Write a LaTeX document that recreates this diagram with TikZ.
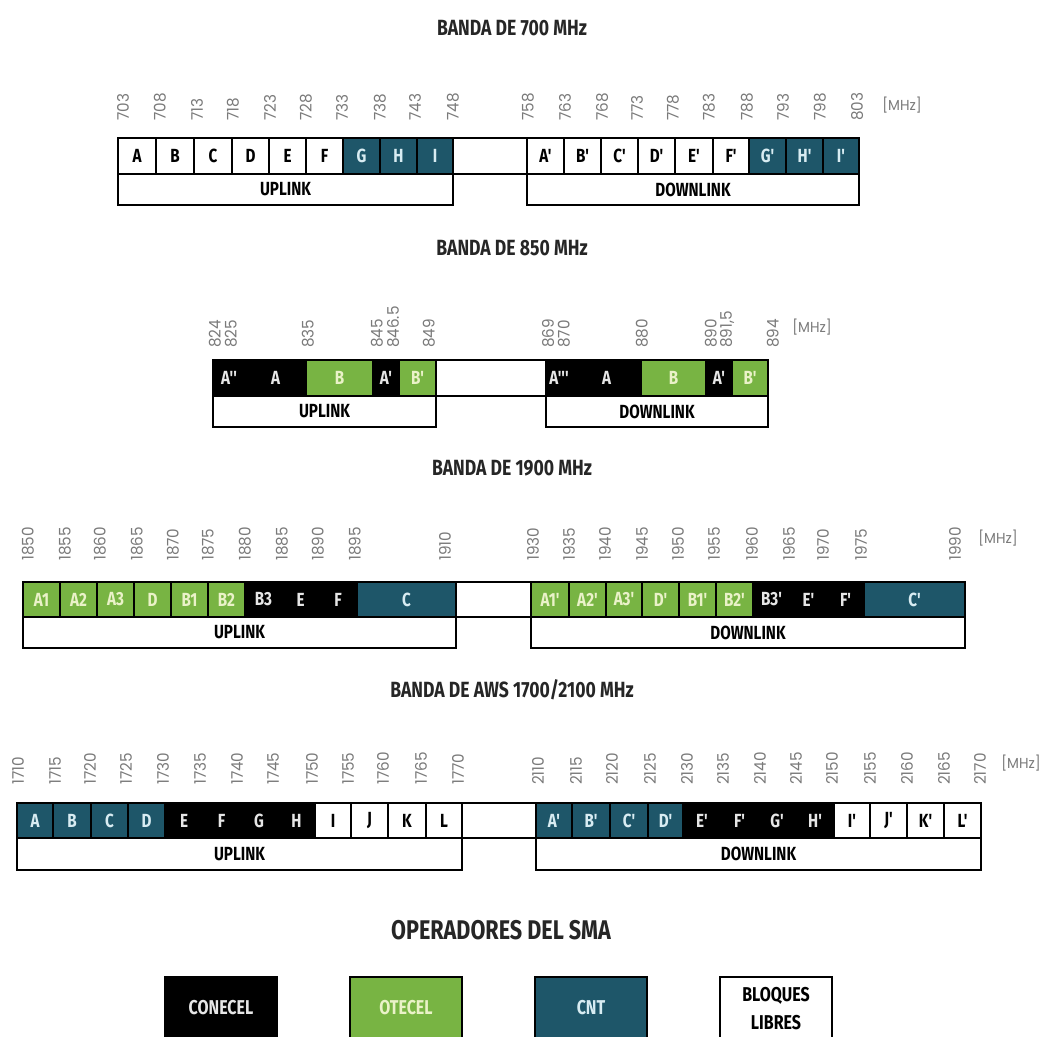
\documentclass[tikz,border=0pt]{standalone}
\usepackage{fontspec}
\setmainfont{Fira Sans}
\newfontfamily\cnd{Fira Sans}[FakeStretch=0.8]
\newfontfamily\thn{Poppins}[FakeStretch=0.95]
\definecolor{cntblue}{HTML}{1E5669}
\definecolor{otgreen}{HTML}{78B443}
\definecolor{frqc}{HTML}{7A7A7A}
\definecolor{ltw}{HTML}{E6E6E6}
\definecolor{ltg}{HTML}{EAF2C8}
\definecolor{ltb}{HTML}{D8ECF2}
\newcommand\cellrow[3]{%
  \foreach \xa/\xb/\cfill/\ctext/\clab in {#3}{%
    \draw[cell,fill=\cfill] (\xa,#1) rectangle (\xb,#2);
    \node[lbl,text=\ctext] at ({(\xa+\xb)/2},{(#1+#2)/2}) {\clab};
  }}
\newcommand\freqs[2]{%
  \foreach \fv/\fp in {#2}{\node[frq] at (\fp,#1) {\fv};}}
\begin{document}
\begin{tikzpicture}[x=1pt,y=-1pt,
  cell/.style={draw=black,line width=1.4pt},
  lbl/.style={font={\cnd\bfseries\fontsize{19}{19}\selectfont},inner sep=0pt},
  frq/.style={font={\thn\fontsize{16}{16}\selectfont},text=frqc,rotate=90,anchor=west,inner sep=0pt},
  mhz/.style={font={\thn\fontsize{14.5}{14.5}\selectfont},text=frqc,inner sep=0pt},
  ttl/.style={font={\cnd\bfseries\fontsize{22}{22}\selectfont},text=black!85,inner sep=0pt},
  lgd/.style={draw=black,line width=1.2pt},
  lgt/.style={font={\cnd\bfseries\fontsize{20}{28}\selectfont},align=center,inner sep=0pt}]
\useasboundingbox (0,0) rectangle (1043,1036);
\clip (0,0) rectangle (1043,1036);

% ---------- 700 MHz ----------
\node[ttl] (t700) at (512,28) {BANDA DE 700 MHz};
\freqs{121}{703/123,708/160,713/197,718/233,723/270,728/306,733/342,738/380,743/415,748/453,
  758/528,763/565,768/602,773/637,778/673,783/709,788/747,793/783,798/820,803/857}
\node[mhz] (m700) at (902,105) {[MHz]};
\cellrow{138}{174}{118/156/white/black/A,156/194/white/black/B,194/232/white/black/C,232/269/white/black/D,
  269/306/white/black/E,306/343/white/black/F,343/380/cntblue/ltb/G,380/417/cntblue/ltb/H,417/453/cntblue/ltb/I,
  453/527/white/black/,
  527/564/white/black/A',564/601/white/black/B',601/638/white/black/C',638/675/white/black/D',
  675/713/white/black/E',713/749/white/black/F',749/786/cntblue/ltb/G',786/823/cntblue/ltb/H',823/859/cntblue/ltb/I'}
\cellrow{174}{205}{118/453/white/black/UPLINK,527/859/white/black/DOWNLINK}

% ---------- 850 MHz ----------
\node[ttl] (t850) at (512,248) {BANDA DE 850 MHz};
\freqs{348}{824/215,825/231,835/308,845/377,846.5/393,849/429,
  869/548,870/564,880/642,890/711,{891,5}/727,894/773}
\node[mhz] (m850) at (812,327) {[MHz]};
\cellrow{360}{396}{213/245/black/ltw/A'',245/306/black/ltw/A,306/373/otgreen/ltg/B,373/399/black/ltw/A',399/436/otgreen/ltg/B',
  436/546/white/black/,
  546/572/black/ltw/A''',572/641/black/ltw/A,641/706/otgreen/ltg/B,706/732/black/ltw/A',732/768/otgreen/ltg/B'}
\cellrow{396}{427}{213/436/white/black/UPLINK,546/768/white/black/DOWNLINK}

% ---------- 1900 MHz ----------
\node[ttl] (t1900) at (512,468) {BANDA DE 1900 MHz};
\freqs{561}{1850/28,1855/65,1860/100,1865/137,1870/173,1875/208,1880/245,1885/282,1890/318,1895/355,1910/445,
  1930/533,1935/569,1940/605,1945/642,1950/678,1955/714,1960/752,1965/789,1970/823,1975/861,1990/955}
\node[mhz] (m1900) at (998,538) {[MHz]};
\cellrow{582}{617}{23/60/otgreen/ltg/A1,60/97/otgreen/ltg/A2,97/134/otgreen/ltg/A3,134/171/otgreen/ltg/D,
  171/208/otgreen/ltg/B1,208/245/otgreen/ltg/B2,245/282/black/ltw/B3,282/319/black/ltw/E,319/357/black/ltw/F,
  357/456/cntblue/ltb/C,
  456/531/white/black/,
  531/569/otgreen/ltg/A1',569/606/otgreen/ltg/A2',606/642/otgreen/ltg/A3',642/679/otgreen/ltg/D',
  679/716/otgreen/ltg/B1',716/753/otgreen/ltg/B2',753/790/black/ltw/B3',790/827/black/ltw/E',827/864/black/ltw/F',
  864/965/cntblue/ltb/C'}
\cellrow{617}{648}{23/456/white/black/UPLINK,531/965/white/black/DOWNLINK}

% ---------- AWS ----------
\node[ttl] (taws) at (512,690) {BANDA DE AWS 1700/2100 MHz};
\freqs{785}{1710/18,1715/55,1720/90,1725/126,1730/163,1735/200,1740/237,1745/273,1750/312,1755/348,1760/383,1765/421,1770/458,
  2110/538,2115/576,2120/612,2125/650,2130/687,2135/723,2140/760,2145/796,2150/832,2155/870,2160/907,2165/944,2170/980}
\node[mhz] (maws) at (1021,763) {[MHz]};
\cellrow{803}{838}{17/53/cntblue/ltb/A,53/91/cntblue/ltb/B,91/128/cntblue/ltb/C,128/165/cntblue/ltb/D,
  165/203/black/ltw/E,203/240/black/ltw/F,240/278/black/ltw/G,278/315/black/ltw/H,
  315/351/white/black/I,351/388/white/black/J,388/426/white/black/K,426/462/white/black/L,
  462/536/white/black/,
  536/572/cntblue/ltb/A',572/610/cntblue/ltb/B',610/648/cntblue/ltb/C',648/683/cntblue/ltb/D',
  683/721/black/ltw/E',721/758/black/ltw/F',758/796/black/ltw/G',796/834/black/ltw/H',
  834/870/white/black/I',870/907/white/black/J',907/944/white/black/K',944/981/white/black/L'}
\cellrow{838}{870}{17/462/white/black/UPLINK,536/981/white/black/DOWNLINK}

% ---------- Legend ----------
\node[ttl,font={\cnd\bfseries\fontsize{27}{27}\selectfont}] (tsma) at (501,930) {OPERADORES DEL SMA};
\draw[lgd,fill=black] (165,977) rectangle (277,1050);
\node[lgt,text=ltw] (lc) at (221,1008) {CONECEL};
\draw[lgd,fill=otgreen] (350,977) rectangle (462,1050);
\node[lgt,text=ltg] (lo) at (406,1008) {OTECEL};
\draw[lgd,fill=cntblue] (535,977) rectangle (647,1050);
\node[lgt,text=ltb] (ln) at (591,1008) {CNT};
\draw[lgd,fill=white] (720,977) rectangle (832,1050);
\node[lgt,text=black] (ll) at (776,1009) {BLOQUES\\LIBRES};
\end{tikzpicture}
\end{document}
